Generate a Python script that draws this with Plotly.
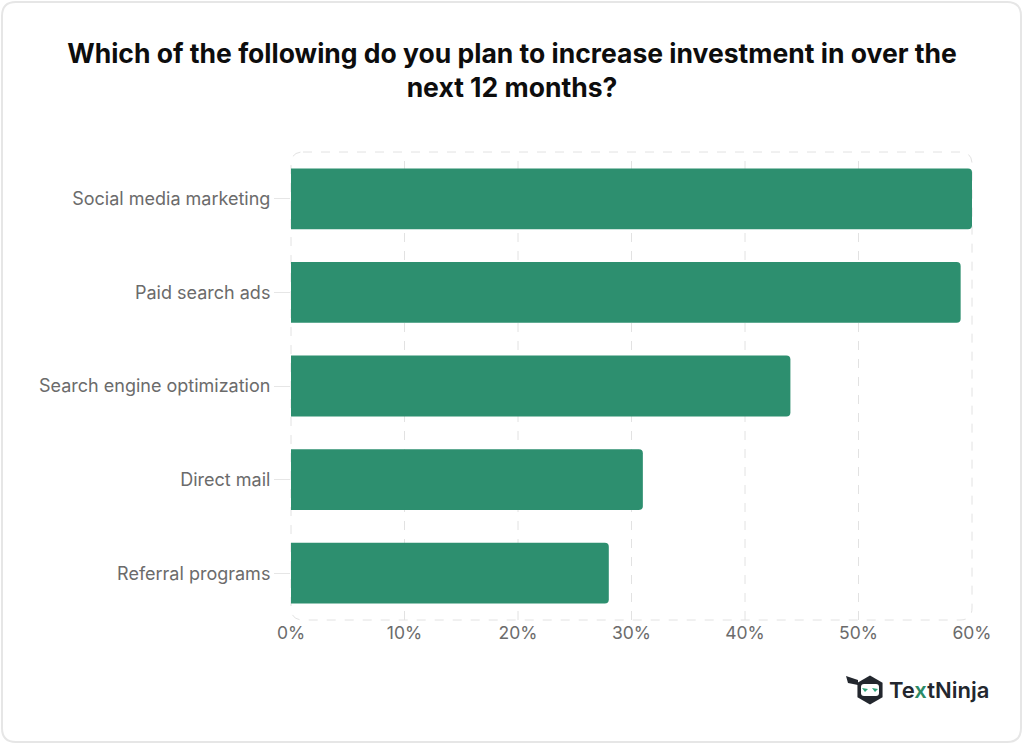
import plotly.graph_objects as go
import math

categories = ["Social media marketing", "Paid search ads", "Search engine optimization",
              "Direct mail", "Referral programs"]
values = [60, 59, 44, 31, 28]
x_ticks = [0, 10, 20, 30, 40, 50, 60]
x_tick_labels = ["0%", "10%", "20%", "30%", "40%", "50%", "60%"]

BAR = "#2d8f6f"
W, H = 1024, 745
L, R, T, B = 291, 972, 152, 620  # plot area in px

def px(x):
    return (x - L) / (R - L)

def py(y):
    return (B - y) / (B - T)

def rounded_rect(x0, y0, x1, y1, r):
    rx = r / (R - L)
    ry = r / (B - T)
    a, b, c, d = px(x0), py(y1), px(x1), py(y0)
    return (f"M {a+rx},{d} L {c-rx},{d} Q {c},{d} {c},{d-ry} "
            f"L {c},{b+ry} Q {c},{b} {c-rx},{b} L {a+rx},{b} "
            f"Q {a},{b} {a},{b+ry} L {a},{d-ry} Q {a},{d} {a+rx},{d} Z")

fig = go.Figure(go.Bar(
    x=values, y=categories, orientation="h",
    marker=dict(color=BAR, line=dict(width=0)),
    width=0.65, hoverinfo="x+y",
))

shapes = []
shapes.append(dict(type="path", xref="paper", yref="paper",
                   path=rounded_rect(2, 2, 1021, 742, 14),
                   line=dict(color="#e6e6e6", width=2), fillcolor="rgba(0,0,0,0)", layer="below"))
shapes.append(dict(type="path", xref="paper", yref="paper",
                   path=rounded_rect(L, T, R, B, 12),
                   line=dict(color="#e2e2e2", width=1, dash="dash"), layer="below"))
for t in x_ticks[1:-1]:
    shapes.append(dict(type="line", xref="x", yref="paper", x0=t, x1=t, y0=0, y1=1,
                       line=dict(color="#e2e2e2", width=1, dash="dash"), layer="below"))

# logo icon
cx, cy, rr = 870, 690, 14.5
pts = []
for k in range(6):
    ang = math.radians(90 + 60 * k)
    pts.append((px(cx + rr * math.cos(ang)), py(cy - rr * math.sin(ang))))
hexpath = "M " + " L ".join(f"{a},{b}" for a, b in pts) + " Z"
shapes.append(dict(type="path", xref="paper", yref="paper", path=hexpath,
                   fillcolor="#23272e", line=dict(width=0)))
shapes.append(dict(type="path", xref="paper", yref="paper",
                   path=f"M {px(858)},{py(680)} L {px(846)},{py(676)} L {px(848)},{py(683)} L {px(858)},{py(685)} Z",
                   fillcolor="#23272e", line=dict(width=0)))
shapes.append(dict(type="path", xref="paper", yref="paper",
                   path=rounded_rect(861, 684, 879, 696, 3),
                   fillcolor="#ffffff", line=dict(width=0)))
for ex in (865, 875):
    shapes.append(dict(type="path", xref="paper", yref="paper",
                       path=f"M {px(ex-3)},{py(688)} L {px(ex+3)},{py(689)} L {px(ex)},{py(692)} Z",
                       fillcolor="#2fa27a", line=dict(width=0)))

annotations = [
    dict(xref="paper", yref="paper", x=px(887), y=py(690), xanchor="left", yanchor="middle",
         text="Te<span style='color:#2b8a67'>x</span>tNinja", showarrow=False,
         font=dict(family="Inter, sans-serif", size=22, color="#23272e", weight=600)),
]

fig.update_layout(
    width=W, height=H,
    margin=dict(l=L, r=W - R, t=T, b=H - B, pad=0),
    paper_bgcolor="#ffffff", plot_bgcolor="rgba(0,0,0,0)",
    barcornerradius=4,
    showlegend=False,
    title=dict(
        text="<b>Which of the following do you plan to increase investment in over the<br>next 12 months?</b>",
        x=0.5, xanchor="center", xref="container",
        y=1 - 63 / H, yanchor="middle", yref="container",
        font=dict(family="Inter, sans-serif", size=26.5, color="#0d0d0d"),
    ),
    font=dict(family="Inter, sans-serif"),
    xaxis=dict(range=[0, 60], tickvals=x_ticks, ticktext=x_tick_labels,
               showgrid=False, zeroline=False, showline=False, ticks="",
               tickfont=dict(size=17.5, color="#6b6b6b"), fixedrange=True),
    yaxis=dict(categoryorder="array", categoryarray=categories, autorange="reversed",
               showgrid=False, zeroline=False, showline=False,
               ticks="outside", ticklen=16, tickcolor="#e6e6e6", tickwidth=1,
               tickfont=dict(size=18, color="#6b6b6b"), fixedrange=True),
    shapes=shapes,
    annotations=annotations,
)

fig.write_html("out.html")
